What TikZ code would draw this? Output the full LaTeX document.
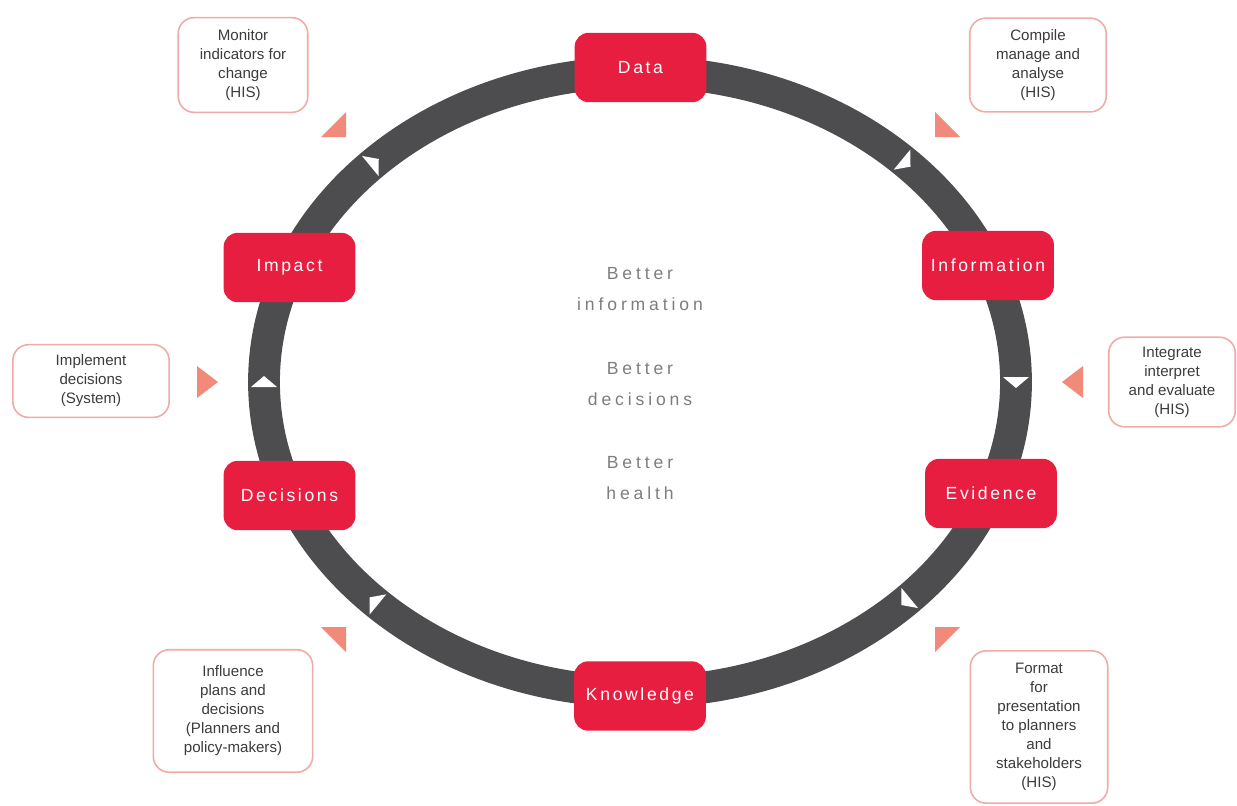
\documentclass[tikz,border=0pt]{standalone}
\usepackage{fontspec}
\setmainfont{Liberation Sans}
\newfontfamily\labfont[LetterSpace=15]{Liberation Sans}
\newfontfamily\midfont[LetterSpace=22]{Liberation Sans}
\definecolor{crim}{RGB}{232,30,64}
\definecolor{ringgray}{RGB}{77,77,79}
\definecolor{salmon}{RGB}{240,138,122}
\definecolor{boxline}{RGB}{242,170,166}
\definecolor{txt}{RGB}{60,60,60}
\definecolor{midtxt}{RGB}{125,125,125}
\begin{document}
\begin{tikzpicture}[x=0.02cm,y=-0.02cm,
  stage/.style={fill=crim, rounded corners=8pt, minimum width=75pt, minimum height=39.5pt,
    text=white, font=\labfont\fontsize{10}{12}\selectfont, inner sep=0pt},
  note/.style={draw=boxline, line width=0.9pt, fill=white, rounded corners=9pt, align=center,
    text=txt, font=\fontsize{8.6}{10.8}\selectfont, inner sep=0pt},
  mid/.style={align=center, text=midtxt, font=\midfont\fontsize{10}{18}\selectfont},
  pointer/.style={fill=salmon},
  tick/.style={fill=white}]
\useasboundingbox (0,0) rectangle (1237,805);
% ring
\draw[ringgray, line width=18.1pt] (640,382) ellipse [x radius=376, y radius=310];
% direction ticks on the ring
\foreach \t in {0,45,135,180,225,315}{
  \pgfmathsetmacro\px{640+376*cos(\t)}
  \pgfmathsetmacro\py{382-310*sin(\t)}
  \pgfmathsetmacro\ux{376*sin(\t)}
  \pgfmathsetmacro\uy{310*cos(\t)}
  \pgfmathsetmacro\ul{veclen(\ux,\uy)}
  \pgfmathsetmacro\ax{\ux/\ul}
  \pgfmathsetmacro\ay{\uy/\ul}
  \fill[tick] (\px+6*\ax,\py+6*\ay) -- (\px-5*\ax-13*\ay,\py-5*\ay+13*\ax)
     -- (\px-5*\ax+13*\ay,\py-5*\ay-13*\ax) -- cycle;
}
% stage nodes
\node[stage] (data) at (640.5,67.5) {Data};
\node[stage] (info) at (988,265.5) {Information};
\node[stage] (evid) at (991,493.5) {Evidence};
\node[stage] (know) at (640,696) {Knowledge};
\node[stage] (deci) at (289.5,495.5) {Decisions};
\node[stage] (impa) at (289.5,267.5) {Impact};
% centre text
\node[mid] (m1) at (640,289) {Better\\information};
\node[mid] (m2) at (640,384) {Better\\decisions};
\node[mid] (m3) at (640,478) {Better\\health};
% notes
\node[note, minimum width=73.7pt, minimum height=53.9pt] (n1) at (243,65)
  {Monitor\\indicators for\\change\\(HIS)};
\node[note, minimum width=77.7pt, minimum height=53.3pt] (n2) at (1038,65)
  {Compile\\manage and\\analyse\\(HIS)};
\node[note, minimum width=89pt, minimum height=41.4pt] (n3) at (91,381)
  {Implement\\decisions\\(System)};
\node[note, minimum width=72pt, minimum height=51pt] (n4) at (1172,382)
  {Integrate\\interpret\\and evaluate\\(HIS)};
\node[note, minimum width=90.7pt, minimum height=69.7pt] (n5) at (233,711)
  {Influence\\plans and\\decisions\\(Planners and\\policy-makers)};
\node[note, minimum width=78.2pt, minimum height=86.7pt] (n6) at (1039,727)
  {Format\\for\\presentation\\to planners\\and\\stakeholders\\(HIS)};
% salmon pointers
\fill[pointer] (346,112) -- (346,137) -- (321,137) -- cycle;
\fill[pointer] (935,112) -- (935,137) -- (960,137) -- cycle;
\fill[pointer] (197,366) -- (197,398) -- (218,382) -- cycle;
\fill[pointer] (1083,366) -- (1083,398) -- (1062,382) -- cycle;
\fill[pointer] (321,627) -- (346,627) -- (346,652) -- cycle;
\fill[pointer] (935,627) -- (960,627) -- (935,652) -- cycle;
\end{tikzpicture}
\end{document}
